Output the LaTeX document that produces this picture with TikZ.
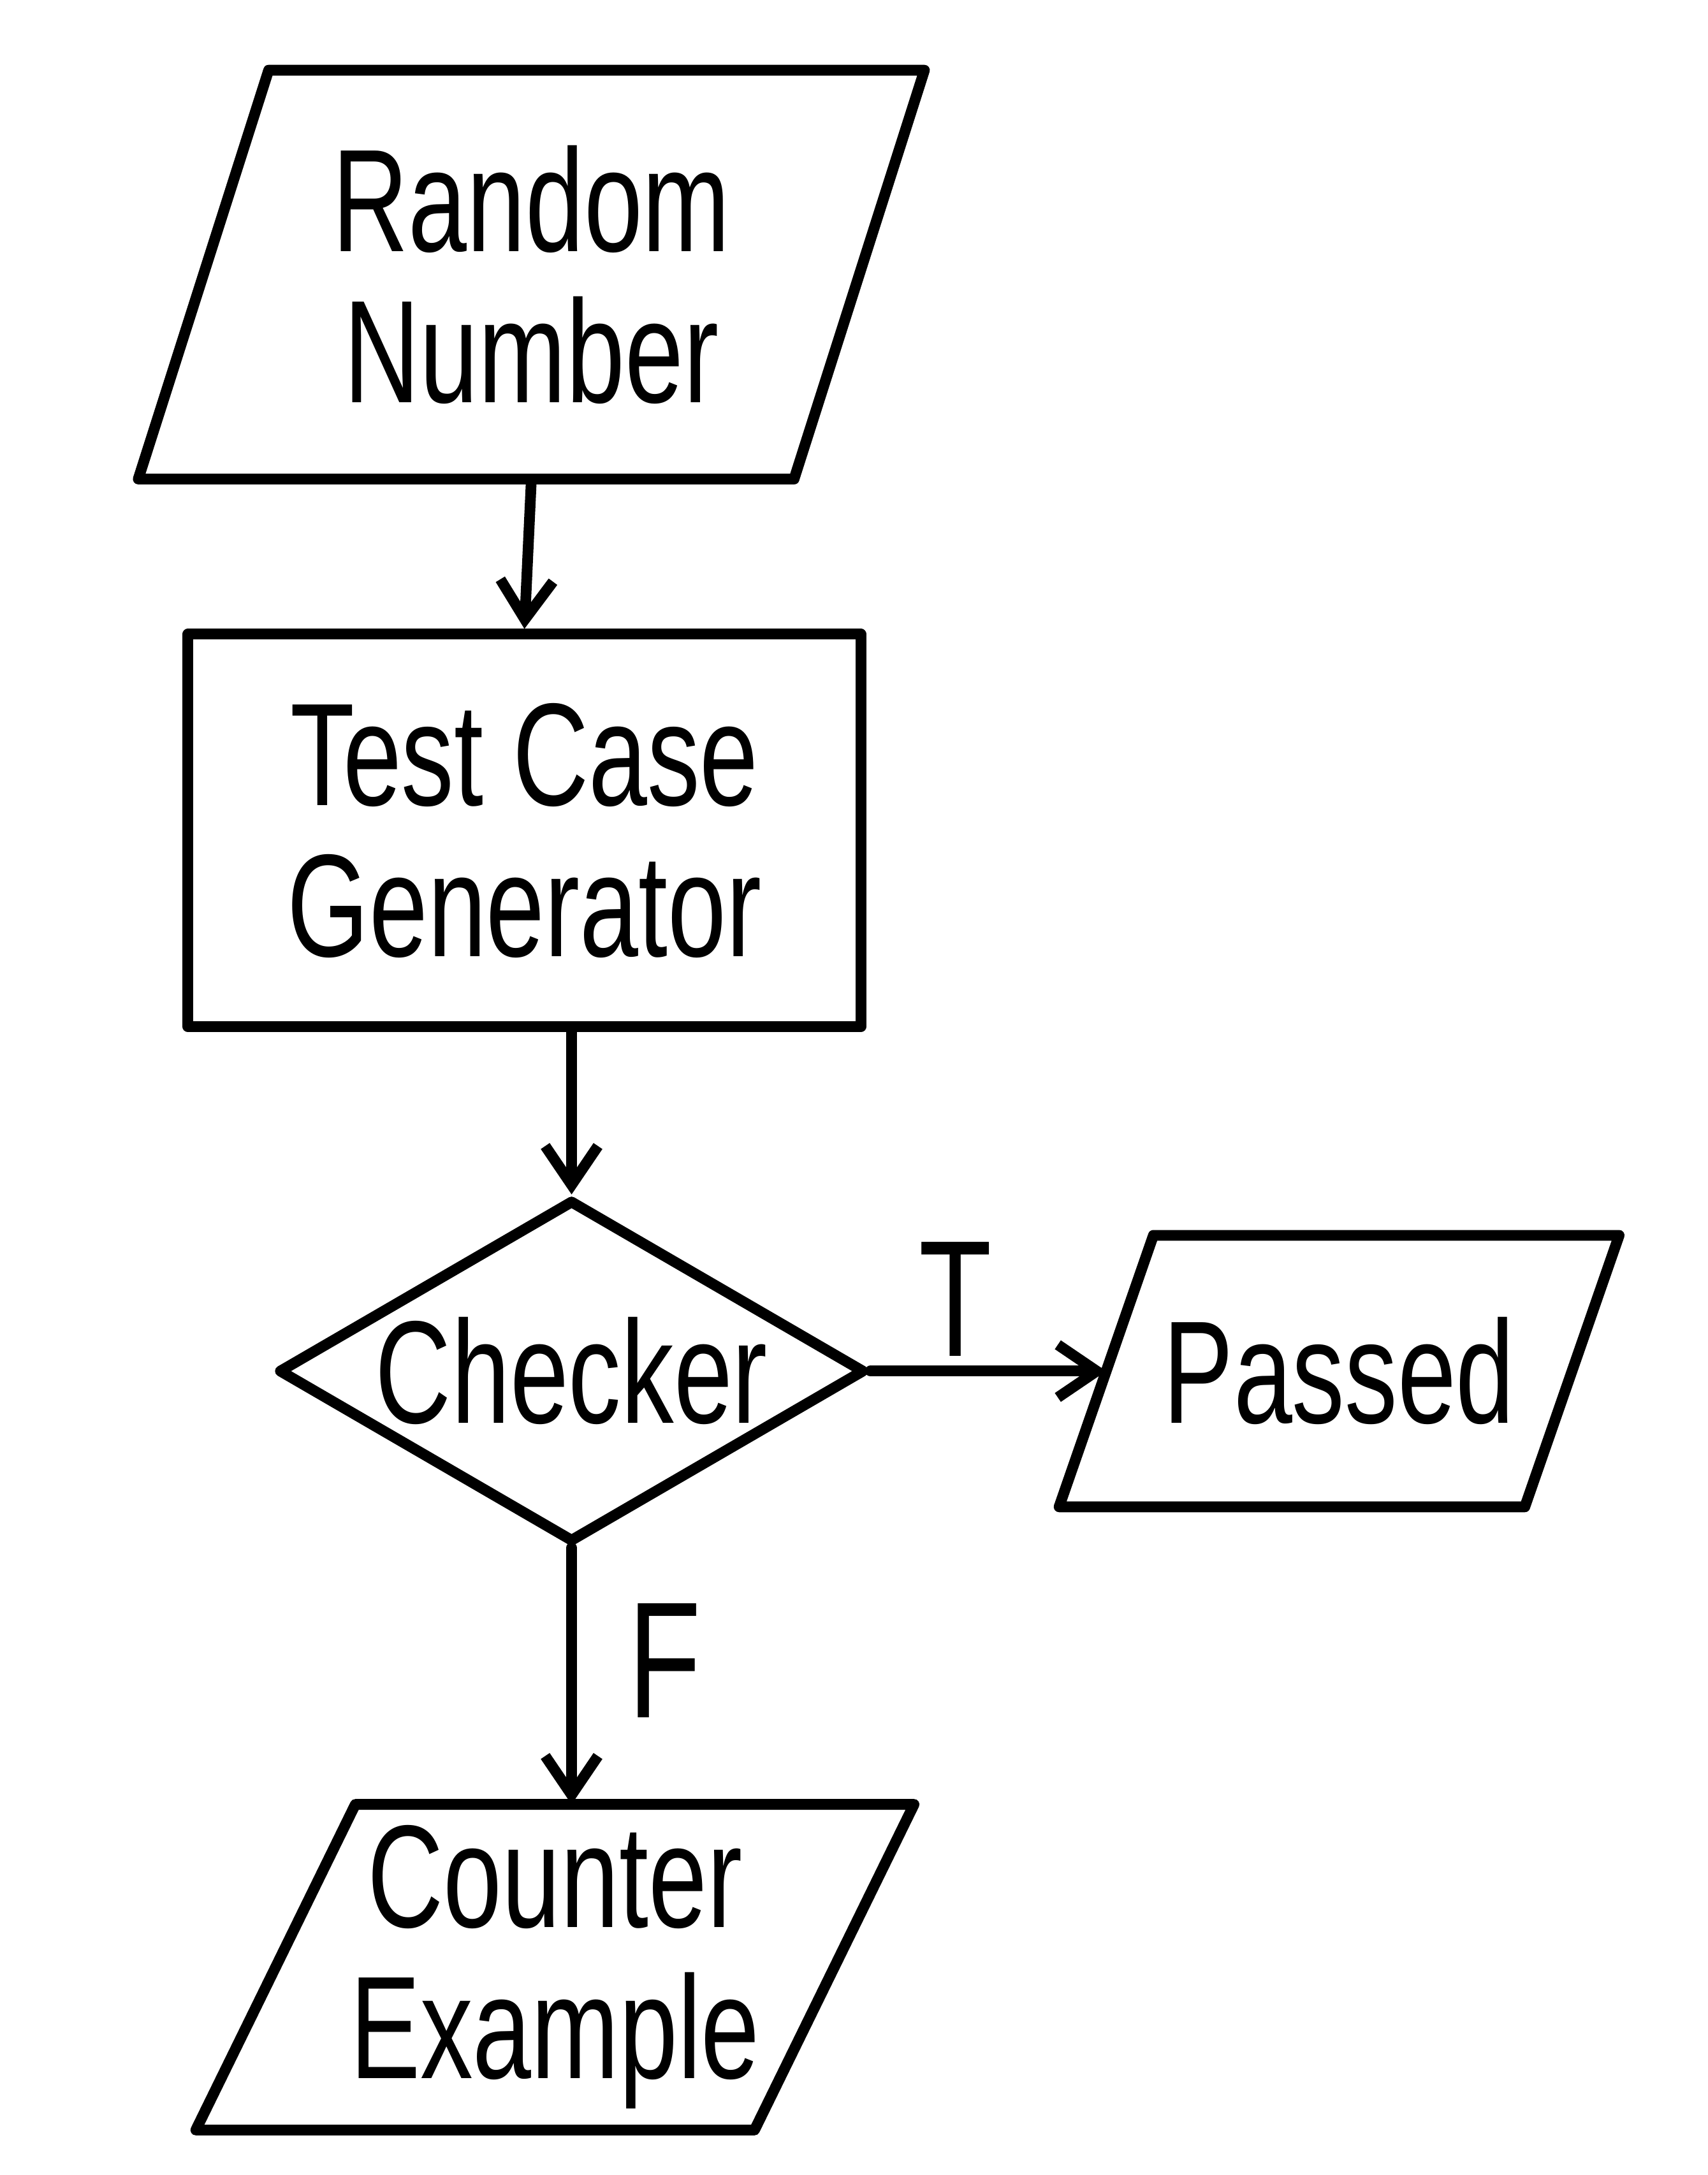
\documentclass[tikz,border=0pt]{standalone}
\usepackage{fontspec}
\newfontfamily\handfont[FakeStretch=0.72]{Liberation Sans}
\usetikzlibrary{arrows.meta,positioning,shapes.geometric}

% parallelogram drawn round a named node: #1 node, #2 slant offset
\newcommand{\slantbox}[2]{%
  \draw ([xshift=#2]#1.north west) -- ([xshift=#2]#1.north east)
     -- ([xshift=-#2]#1.south east) -- ([xshift=-#2]#1.south west) -- cycle;}

\begin{document}
\begin{tikzpicture}[
  >={Straight Barb[length=2.8mm,width=3.8mm]},
  line width=2.2pt, line cap=round, line join=round,
  txt/.style={
    font=\handfont\fontsize{30}{31}\selectfont,
    align=center,
    inner sep=0pt
  },
  procbox/.style={txt, draw, minimum width=4.85cm, minimum height=2.83cm},
  checkbox/.style={txt, draw, diamond, aspect=1.71, minimum width=4.23cm, minimum height=2.47cm},
  lbl/.style={font=\handfont\fontsize{34}{36}\selectfont, inner sep=2pt}
  ]
  \useasboundingbox (0,0) rectangle (12.31,15.68);

  \node[txt, minimum width=4.65cm, minimum height=2.87cm] (rn) at (3.83,13.70) {Random\\Number};
  \node[procbox, below=1.08cm of rn, xshift=-0.05cm] (tcg) {Test Case\\Generator};
  \node[checkbox, below=1.17cm of tcg, xshift=0.34cm] (ch) {Checker};
  \node[txt, minimum width=3.28cm, minimum height=1.88cm, right=1.70cm of ch] (pa) {Passed};
  \node[txt, minimum width=3.95cm, minimum height=2.27cm, below=1.85cm of ch, xshift=-0.12cm] (ce) {Counter\\Example};

  \slantbox{rn}{0.47cm}
  \slantbox{pa}{0.34cm}
  \slantbox{ce}{0.575cm}

  \draw[->] (rn.south) -- (tcg.north);
  \draw[->] (tcg.south -| ch.north) -- (ch.north);
  \draw[->] (ch.east) -- node[lbl, pos=0.36, above] {T} (pa.west);
  \draw[->] (ch.south) -- node[lbl, pos=0.44, right=0.3cm] {F} (ch.south |- ce.north);

\end{tikzpicture}
\end{document}
